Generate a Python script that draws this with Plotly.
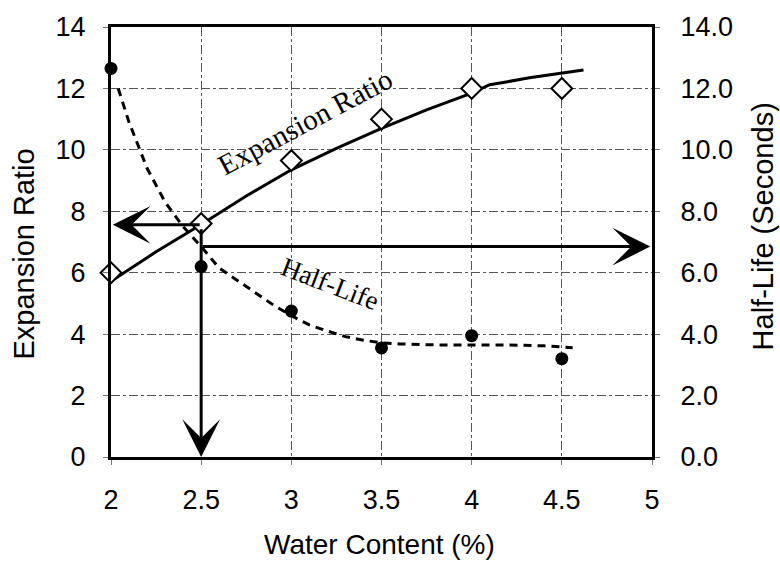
import plotly.graph_objects as go

# ---- data ----
water = [2.0, 2.5, 3.0, 3.5, 4.0, 4.5]
expansion = [6.0, 7.6, 9.65, 11.0, 12.0, 12.0]
half_life = [12.65, 6.2, 4.75, 3.55, 3.95, 3.2]

exp_fit_x = [2.0, 2.25, 2.5, 2.75, 3.0, 3.25, 3.5, 3.75, 4.0, 4.1, 4.2, 4.32, 4.62]
exp_fit_y = [5.72, 6.68, 7.57, 8.5, 9.35, 10.05, 10.7, 11.3, 11.85, 12.12, 12.22, 12.35, 12.6]

hl_fit_x = [2.04, 2.1, 2.2, 2.3, 2.4, 2.5, 2.6, 2.7, 2.8, 2.9, 3.0, 3.1, 3.2, 3.3, 3.4, 3.5,
            3.6, 3.8, 4.0, 4.2, 4.4, 4.56]
hl_fit_y = [12.0, 10.9, 9.4, 8.3, 7.5, 6.85, 6.15, 5.75, 5.35, 4.95, 4.6, 4.3, 4.1, 3.92, 3.8,
            3.72, 3.68, 3.65, 3.65, 3.65, 3.62, 3.56]

x_ticks = [2, 2.5, 3, 3.5, 4, 4.5, 5]
y_ticks = [0, 2, 4, 6, 8, 10, 12, 14]

read_x = 2.5
read_exp = 7.56
read_hl = 6.85

SANS = "Liberation Sans, Arial, sans-serif"
SERIF = "Liberation Serif, Times New Roman, serif"

fig = go.Figure()

fig.add_trace(go.Scatter(x=exp_fit_x, y=exp_fit_y, mode="lines",
                         line=dict(color="black", width=3), cliponaxis=False,
                         showlegend=False, hoverinfo="skip"))
fig.add_trace(go.Scatter(x=hl_fit_x, y=hl_fit_y, mode="lines", yaxis="y2",
                         line=dict(color="black", width=3, dash="8px,6px"), cliponaxis=False,
                         showlegend=False, hoverinfo="skip"))
fig.add_trace(go.Scatter(x=water, y=expansion, mode="markers",
                         marker=dict(symbol="diamond", size=16, color="white",
                                     line=dict(color="black", width=2)),
                         cliponaxis=False, showlegend=False))
fig.add_trace(go.Scatter(x=water, y=half_life, mode="markers", yaxis="y2",
                         marker=dict(symbol="circle", size=13, color="black"),
                         cliponaxis=False, showlegend=False))

arrow_common = dict(text="", showarrow=True, arrowhead=3, arrowsize=2.1, arrowwidth=3,
                    arrowcolor="black", xref="x", yref="y", axref="x", ayref="y",
                    standoff=0, startstandoff=0)
# left arrow
fig.add_annotation(x=2.01, y=read_exp, ax=read_x, ay=read_exp, **arrow_common)
# down arrow
fig.add_annotation(x=read_x, y=0, ax=read_x, ay=read_exp - 0.1, **arrow_common)
# right arrow
fig.add_annotation(x=4.99, y=read_hl, ax=read_x, ay=read_hl, **arrow_common)

# curve labels
fig.add_annotation(x=3.076, y=10.9, xref="x", yref="y", text="Expansion Ratio",
                   showarrow=False, textangle=-28,
                   font=dict(family=SERIF, size=29, color="black"))
fig.add_annotation(x=3.215, y=5.63, xref="x", yref="y", text="Half-Life",
                   showarrow=False, textangle=21,
                   font=dict(family=SERIF, size=27, color="black"))

# axis titles
fig.add_annotation(x=-0.161, y=0.473, xref="paper", yref="paper", text="Expansion Ratio",
                   showarrow=False, textangle=-90, xanchor="center", yanchor="middle",
                   font=dict(family=SANS, size=29, color="black"))
fig.add_annotation(x=1.205, y=0.536, xref="paper", yref="paper", text="Half-Life (Seconds)",
                   showarrow=False, textangle=-90, xanchor="center", yanchor="middle",
                   font=dict(family=SANS, size=29, color="black"))
fig.add_annotation(x=0.497, y=-0.203, xref="paper", yref="paper", text="Water Content (%)",
                   showarrow=False, xanchor="center", yanchor="middle",
                   font=dict(family=SANS, size=28, color="black"))

grid = dict(showgrid=True, gridcolor="#555555", gridwidth=1, griddash="dashdot")
fig.update_layout(
    width=780, height=579,
    margin=dict(l=111, r=128, t=24, b=122),
    paper_bgcolor="white", plot_bgcolor="white",
    showlegend=False,
    font=dict(family=SANS, size=27, color="black"),
    xaxis=dict(range=[2, 5], tickvals=x_ticks, ticktext=[f"{v:g}" for v in x_ticks],
               showline=True, linecolor="black", linewidth=3, mirror=True,
               ticks="outside", ticklen=5, tickwidth=1, tickcolor="#777777",
               ticklabelstandoff=12, zeroline=False, **grid),
    yaxis=dict(range=[0, 14], tickvals=y_ticks, ticktext=[f"{v:g}" for v in y_ticks],
               showline=True, linecolor="black", linewidth=3,
               ticks="outside", ticklen=5, tickwidth=1, tickcolor="#777777",
               ticklabelstandoff=12, zeroline=False, **grid),
    yaxis2=dict(range=[0, 14], tickvals=y_ticks, ticktext=[f"{v:.1f}" for v in y_ticks],
                overlaying="y", side="right",
                showline=True, linecolor="black", linewidth=3,
                ticks="outside", ticklen=5, tickwidth=1, tickcolor="#777777",
                ticklabelstandoff=15, zeroline=False, showgrid=False),
)

fig.write_html("out.html")
